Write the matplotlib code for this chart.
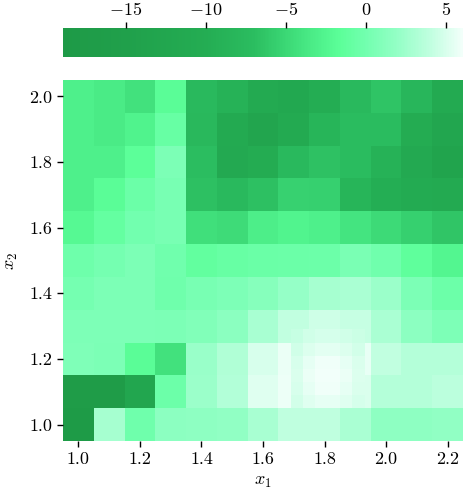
import numpy as np
import matplotlib
matplotlib.use("Agg")
import matplotlib.pyplot as plt
from matplotlib.colors import LinearSegmentedColormap, Normalize

plt.rcParams['font.family'] = 'serif'
plt.rcParams['font.serif'] = ['cmr10']
plt.rcParams['mathtext.fontset'] = 'cm'
plt.rcParams['axes.formatter.use_mathtext'] = True
plt.rcParams['font.size'] = 13

# grid centres
x1 = [1.0, 1.1, 1.2, 1.3, 1.4, 1.5, 1.6, 1.7, 1.8, 1.9, 2.0, 2.1, 2.2]
x2 = [1.0, 1.1, 1.2, 1.3, 1.4, 1.5, 1.6, 1.7, 1.8, 1.9, 2.0]

# values, rows from x2 = 1.0 (bottom) up to x2 = 2.0 (top)
z = [
    [-18.5, 2.8, -0.2, 1.5, 1.6, 1.8, 2.9, 4.0, 4.0, 3.0, 1.6, 1.6, 1.8],
    [-17.5, -17.5, -12.5, -0.4, 2.3, 3.4, 5.2, 5.8, 6.0, 5.0, 3.5, 3.5, 3.8],
    [0.7, 0.5, -1.8, -4.2, 2.2, 3.3, 4.9, 5.7, 6.0, 5.6, 4.1, 3.5, 3.5],
    [0.6, 0.6, 0.6, 0.5, 0.8, 1.4, 2.9, 4.1, 4.5, 4.3, 3.0, 1.5, 0.6],
    [0.2, 0.5, 0.5, -0.2, 0.3, 0.6, 1.1, 2.0, 2.8, 3.0, 2.3, 0.5, -0.4],
    [-0.3, 0.2, 0.5, -0.1, -1.2, -0.8, -0.6, -0.5, -0.4, 0.4, -0.1, -1.4, -2.5],
    [-2.2, -1.0, 0.0, 0.3, -4.4, -4.7, -3.2, -2.7, -3.0, -4.0, -4.8, -5.6, -6.4],
    [-3.0, -1.8, -0.5, 0.3, -6.8, -7.8, -6.8, -5.5, -5.6, -8.5, -9.8, -10.8, -11.2],
    [-3.0, -3.0, -1.6, 0.5, -7.0, -11.5, -10.5, -7.8, -6.7, -7.3, -9.0, -11.5, -13.5],
    [-3.0, -3.5, -2.8, -0.8, -8.0, -11.0, -13.0, -11.0, -8.5, -7.3, -7.3, -10.5, -12.5],
    [-3.0, -3.5, -4.2, -1.8, -7.8, -9.0, -11.0, -12.0, -10.0, -7.8, -6.5, -8.2, -11.0],
]

# finer refinement patch near the maximum
fx = [1.71, 1.75, 1.79, 1.83, 1.87, 1.91]
fy = [1.07, 1.11, 1.15, 1.19, 1.23, 1.27]
fz = [
    [4.7, 5.2, 5.5, 5.5, 5.2, 4.8],
    [4.9, 5.5, 5.9, 5.9, 5.5, 5.0],
    [5.0, 5.7, 6.1, 6.1, 5.7, 5.1],
    [4.9, 5.5, 5.9, 5.9, 5.5, 5.0],
    [4.6, 5.1, 5.4, 5.4, 5.1, 4.7],
    [4.3, 4.6, 4.8, 4.8, 4.6, 4.4],
]

vmin, vmax = -18.94, 6.06
anchors = [
    (-18.94, '#1e9a47'), (-15, '#20a04b'), (-10, '#24ad53'), (-7, '#2bbd60'),
    (-5, '#3bd875'), (-3, '#4ef08b'), (-1.6, '#5cff99'), (0, '#72ffaf'),
    (2, '#94ffc6'), (4, '#bfffdf'), (6.06, '#f2fffa'),
]
cmap = LinearSegmentedColormap.from_list(
    'greens', [((v - vmin) / (vmax - vmin), c) for v, c in anchors])
norm = Normalize(vmin=vmin, vmax=vmax)


def edges(c):
    c = np.asarray(c)
    d = np.diff(c)
    return np.concatenate([[c[0] - d[0] / 2], c[:-1] + d / 2, [c[-1] + d[-1] / 2]])


fig = plt.figure(figsize=(4.63, 4.92), dpi=100)
ax = fig.add_axes([63 / 463, 51 / 492, 400 / 463, 361 / 492])
cax = fig.add_axes([63 / 463, 435 / 492, 400 / 463, 29 / 492])

mesh = ax.pcolormesh(edges(x1), edges(x2), np.array(z), cmap=cmap, norm=norm)
ax.pcolormesh(edges(fx), edges(fy), np.array(fz), cmap=cmap, norm=norm)
ax.set_xlim(0.95, 2.25)
ax.set_ylim(0.95, 2.05)
ax.set_xticks([1.0, 1.2, 1.4, 1.6, 1.8, 2.0, 2.2])
ax.set_yticks([1.0, 1.2, 1.4, 1.6, 1.8, 2.0])
ax.set_xticklabels(['1.0', '1.2', '1.4', '1.6', '1.8', '2.0', '2.2'])
ax.set_yticklabels(['1.0', '1.2', '1.4', '1.6', '1.8', '2.0'])
for s in ax.spines.values():
    s.set_visible(False)
ax.tick_params(direction='out', length=4, width=1)
ax.set_xlabel('$x_1$', labelpad=6)
ax.set_ylabel('$x_2$', labelpad=7)

cb = fig.colorbar(mesh, cax=cax, orientation='horizontal')
cb.outline.set_visible(False)
cax.xaxis.set_ticks_position('top')
cb.set_ticks([-15, -10, -5, 0, 5])
cax.tick_params(direction='out', length=4, width=1)

fig.savefig('out.png', dpi=100)
